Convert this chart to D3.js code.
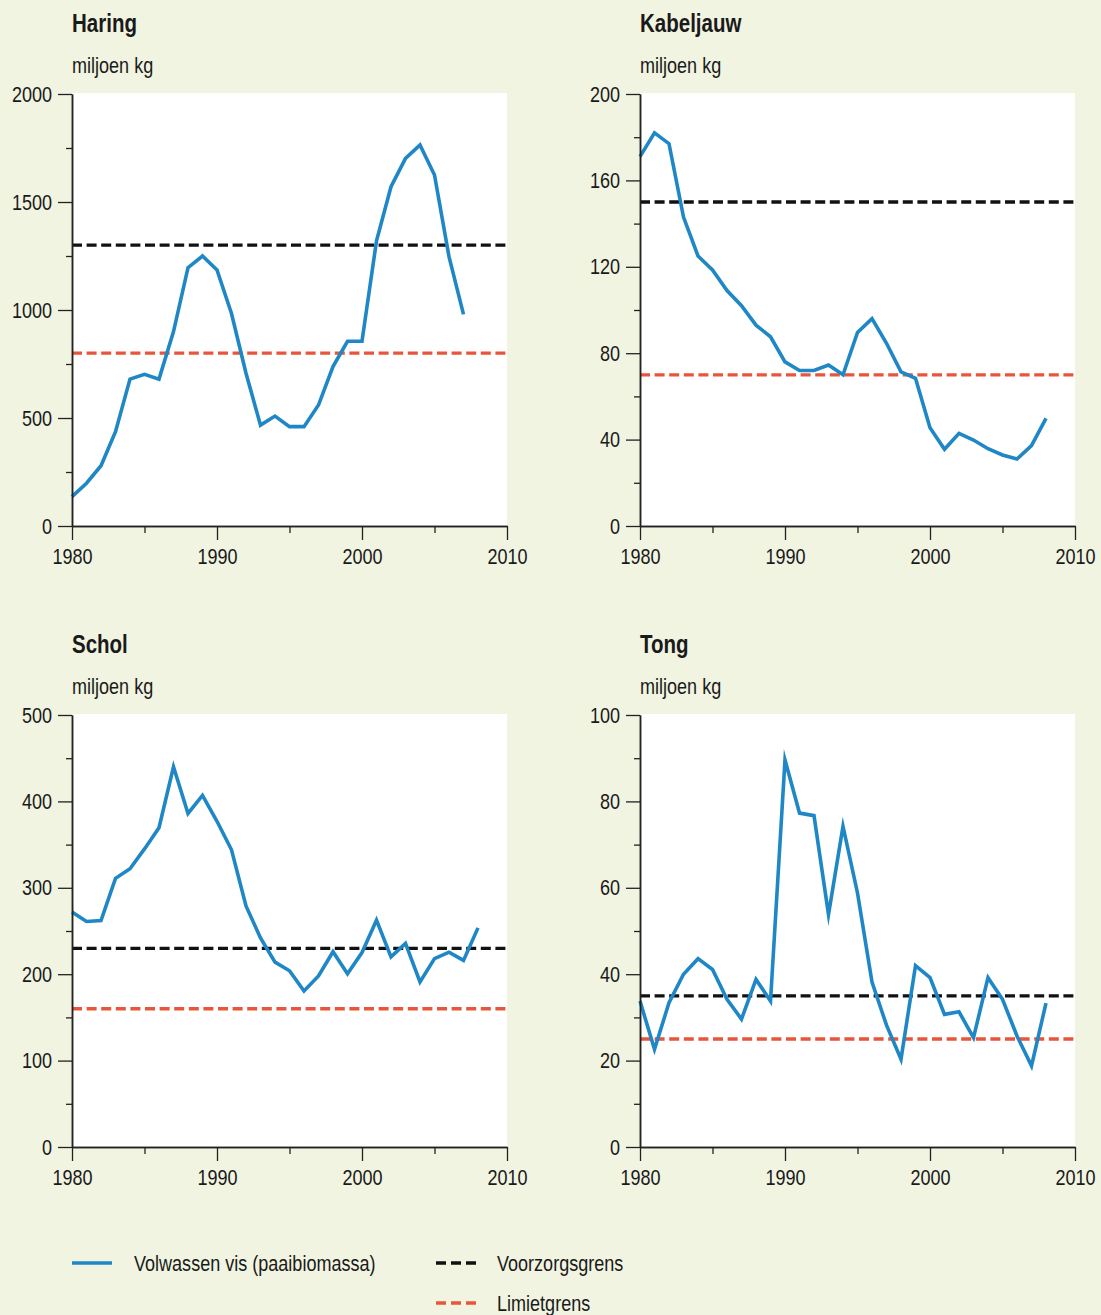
<!DOCTYPE html>
<html>
<head>
<meta charset="utf-8">
<script src="https://cdn.jsdelivr.net/npm/d3@7"></script>
<style>
  html, body { margin: 0; padding: 0; background: #f0f4e1; }
  svg { display: block; }
  text { font-family: "Liberation Sans", Arial, sans-serif; fill: #1a1a1a; }
</style>
</head>
<body>
<script>
// ---------- data ----------
const titles = ["Haring", "Kabeljauw", "Schol", "Tong"];
const unitLabel = "miljoen kg";
const yearsHaring = [1980,1981,1982,1983,1984,1985,1986,1987,1988,1989,1990,1991,1992,1993,1994,1995,1996,1997,1998,1999,2000,2001,2002,2003,2004,2005,2006,2007];
const yearsOther = [1980,1981,1982,1983,1984,1985,1986,1987,1988,1989,1990,1991,1992,1993,1994,1995,1996,1997,1998,1999,2000,2001,2002,2003,2004,2005,2006,2007,2008];
const haring = [136,198,279,437,680,702,680,900,1196,1250,1185,984,707,467,509,460,460,560,738,855,855,1320,1571,1702,1764,1625,1247,980];
const kabeljauw = [171,182,177,143,125,118.5,109,102,93,87.6,76,72,72,74.5,70,89.6,96,84.6,71.4,68.4,45.5,35.5,42.9,39.8,35.8,32.9,31,37.2,49.8];
const schol = [272,261,262,311,322,345,369.5,440,386,407,377,344,279,242,214,204,180.5,198,226,200.5,225,262.5,220,235.6,191,218,225.5,216,253.6];
const tong = [33.8,22.6,33.4,40,43.6,41.1,34.2,29.6,38.8,33.8,89.6,77.3,76.7,53.8,74.2,58.8,38.2,28.2,20.3,42,39.2,30.7,31.3,25.3,39.2,34.2,25.7,18.8,33.3];
const voorzorgsgrens = [1300, 150, 230, 35];
const limietgrens = [800, 70, 160, 25];
const yMax = [2000, 200, 500, 100];
const yMajorTicks = [[0,500,1000,1500,2000],[0,40,80,120,160,200],[0,100,200,300,400,500],[0,20,40,60,80,100]];
const yMinorTicks = [[250,750,1250,1750],[20,60,100,140,180],[50,150,250,350,450],[10,30,50,70,90]];
const xMajorTicks = [1980,1990,2000,2010];
const xMinorTicks = [1985,1995,2005];
const legendLabels = ["Volwassen vis (paaibiomassa)", "Voorzorgsgrens", "Limietgrens"];

const seriesYears = [yearsHaring, yearsOther, yearsOther, yearsOther];
const seriesValues = [haring, kabeljauw, schol, tong];

// ---------- styles ----------
const BLUE = "#1f87c6", BLACK = "#111111", RED = "#e8553a", AXIS = "#222";
const W = 1101, H = 1315;
const SX = 0.82; // horizontal condensing to imitate a narrow face

function narrow(sel) {
  sel.each(function() {
    const t = d3.select(this);
    const x = +(t.attr("x") || 0);
    t.attr("x", x / SX).attr("transform", `scale(${SX},1)`);
  });
}

const svg = d3.select("body").append("svg").attr("width", W).attr("height", H);
svg.append("rect").attr("width", W).attr("height", H).attr("fill", "#f0f4e1");

const panels = [
  {x0: 72, y0: 94}, {x0: 640, y0: 94},
  {x0: 72, y0: 715}, {x0: 640, y0: 715}
];
const pw = 435, ph = 432;

panels.forEach((p, i) => {
  const g = svg.append("g").attr("transform", `translate(${p.x0},${p.y0})`);
  const x = d3.scaleLinear().domain([1980, 2010]).range([0, pw]);
  const y = d3.scaleLinear().domain([0, yMax[i]]).range([ph, 0]);

  g.append("rect").attr("x", 0).attr("y", -1).attr("width", pw).attr("height", ph + 1).attr("fill", "#fff");

  // titles
  g.append("text").attr("x", 0).attr("y", -62).attr("font-size", 25).attr("font-weight", "bold").text(titles[i]).call(narrow);
  g.append("text").attr("x", 0).attr("y", -21).attr("font-size", 22).text(unitLabel).call(narrow);

  // reference lines
  [[voorzorgsgrens[i], BLACK], [limietgrens[i], RED]].forEach(([v, c]) => {
    g.append("line").attr("x1", 0).attr("x2", pw + 2).attr("y1", y(v)).attr("y2", y(v))
      .attr("stroke", c).attr("stroke-width", 3.3).attr("stroke-dasharray", "10,4.6");
  });

  // series
  const line = d3.line().x((d, k) => x(seriesYears[i][k])).y(d => y(d));
  g.append("path").datum(seriesValues[i]).attr("d", line)
    .attr("fill", "none").attr("stroke", BLUE).attr("stroke-width", 3.6)
    .attr("stroke-linejoin", "miter").attr("stroke-miterlimit", 10);

  // axes
  const styleAxis = sel => {
    sel.selectAll("path.domain").attr("stroke", AXIS).attr("stroke-width", 1.5);
    sel.selectAll(".tick line").attr("stroke", AXIS).attr("stroke-width", 1.3);
    sel.selectAll(".tick text").attr("font-size", 22).attr("fill", "#1a1a1a")
      .attr("font-family", '"Liberation Sans", Arial, sans-serif').call(narrow);
  };
  g.append("g").call(d3.axisLeft(y).tickValues(yMinorTicks[i]).tickSize(6).tickSizeOuter(0).tickFormat(""))
    .call(styleAxis);
  g.append("g").call(d3.axisLeft(y).tickValues(yMajorTicks[i]).tickSize(14).tickSizeOuter(0).tickPadding(6).tickFormat(d3.format("d")))
    .call(styleAxis);
  g.append("g").attr("transform", `translate(0,${ph})`)
    .call(d3.axisBottom(x).tickValues(xMinorTicks).tickSize(7).tickSizeOuter(0).tickFormat(""))
    .call(styleAxis);
  g.append("g").attr("transform", `translate(0,${ph})`)
    .call(d3.axisBottom(x).tickValues(xMajorTicks).tickSize(14).tickSizeOuter(0).tickPadding(8).tickFormat(d3.format("d")))
    .call(styleAxis);
});

// legend
const lg = svg.append("g");
lg.append("line").attr("x1", 72).attr("x2", 112).attr("y1", 1263).attr("y2", 1263).attr("stroke", BLUE).attr("stroke-width", 3.6);
lg.append("text").attr("x", 134).attr("y", 1271).attr("font-size", 22).text(legendLabels[0]).call(narrow);
lg.append("line").attr("x1", 436).attr("x2", 476).attr("y1", 1263).attr("y2", 1263).attr("stroke", BLACK).attr("stroke-width", 3.3).attr("stroke-dasharray", "10,5");
lg.append("text").attr("x", 497).attr("y", 1271).attr("font-size", 22).text(legendLabels[1]).call(narrow);
lg.append("line").attr("x1", 436).attr("x2", 476).attr("y1", 1303).attr("y2", 1303).attr("stroke", RED).attr("stroke-width", 3.3).attr("stroke-dasharray", "10,5");
lg.append("text").attr("x", 497).attr("y", 1311).attr("font-size", 22).text(legendLabels[2]).call(narrow);
</script>
</body>
</html>
